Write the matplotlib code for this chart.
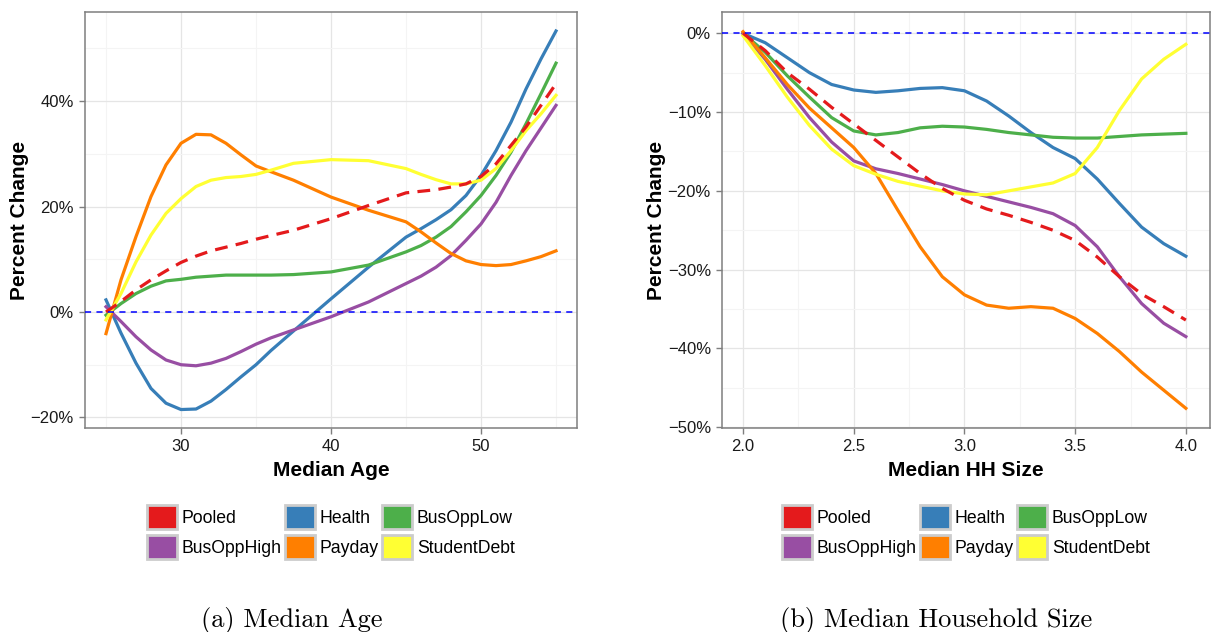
import matplotlib.pyplot as plt
from matplotlib.patches import Patch
from matplotlib.ticker import FuncFormatter, MultipleLocator

plt.rcParams['font.family'] = ['Liberation Sans', 'DejaVu Sans']

names = ['Pooled', 'Health', 'BusOppLow', 'BusOppHigh', 'Payday', 'StudentDebt']
colors = ['#E41A1C', '#377EB8', '#4DAF4A', '#984EA3', '#FF7F00', '#FFFF33']

# panel (a): median age
age = [25, 26, 27, 28, 29, 30, 31, 32, 33, 34, 35, 36, 37.5, 40, 42.5, 45, 46, 47, 48, 49, 50, 51, 52, 53, 54, 55]
age_pooled = [0.0, 2.0, 4.2, 6.1, 7.8, 9.4, 10.6, 11.6, 12.3, 13.0, 13.8, 14.5, 15.5, 17.7, 20.2, 22.6, 22.9, 23.2, 23.7, 24.3, 25.7, 28.1, 31.6, 35.1, 39.2, 43.3]
age_health = [2.3, -4.0, -9.7, -14.5, -17.3, -18.5, -18.4, -16.9, -14.7, -12.3, -10.0, -7.3, -3.6, 2.5, 8.5, 14.2, 15.8, 17.5, 19.4, 22.1, 25.9, 30.6, 36.0, 42.3, 48.0, 53.3]
age_busopplow = [-0.6, 1.6, 3.5, 4.9, 5.9, 6.2, 6.6, 6.8, 7.0, 7.0, 7.0, 7.0, 7.1, 7.6, 8.9, 11.4, 12.6, 14.2, 16.2, 19.0, 22.1, 25.9, 30.3, 35.7, 41.4, 47.2]
age_busopphigh = [1.0, -1.8, -4.7, -7.2, -9.1, -10.0, -10.2, -9.7, -8.8, -7.5, -6.1, -4.9, -3.4, -0.9, 1.9, 5.4, 6.8, 8.5, 10.7, 13.6, 16.7, 20.8, 25.9, 30.6, 34.9, 39.2]
age_payday = [-4.1, 6.1, 14.3, 21.9, 27.9, 32.0, 33.7, 33.6, 32.0, 29.8, 27.7, 26.6, 25.0, 21.8, 19.3, 17.1, 15.2, 13.1, 11.1, 9.7, 9.0, 8.8, 9.0, 9.7, 10.5, 11.6]
age_studentdebt = [-1.5, 3.5, 9.5, 14.6, 18.7, 21.5, 23.8, 25.0, 25.5, 25.7, 26.1, 26.9, 28.2, 28.9, 28.7, 27.2, 26.1, 25.1, 24.3, 24.3, 25.0, 27.2, 30.6, 34.4, 37.6, 41.1]

# panel (b): median household size
hh = [2.0, 2.1, 2.2, 2.3, 2.4, 2.5, 2.6, 2.7, 2.8, 2.9, 3.0, 3.1, 3.2, 3.3, 3.4, 3.5, 3.6, 3.7, 3.8, 3.9, 4.0]
hh_pooled = [0.0, -2.2, -5.0, -7.1, -9.4, -11.5, -13.6, -15.7, -17.8, -19.7, -21.2, -22.3, -23.1, -24.0, -25.0, -26.3, -28.4, -30.9, -33.1, -34.7, -36.4]
hh_health = [0.0, -1.2, -3.1, -5.0, -6.5, -7.2, -7.5, -7.3, -7.0, -6.9, -7.3, -8.6, -10.5, -12.6, -14.5, -15.9, -18.5, -21.6, -24.6, -26.7, -28.3]
hh_busopplow = [0.0, -2.4, -5.4, -8.1, -10.7, -12.4, -12.9, -12.6, -12.0, -11.8, -11.9, -12.2, -12.6, -12.9, -13.2, -13.3, -13.3, -13.1, -12.9, -12.8, -12.7]
hh_busopphigh = [0.0, -3.3, -7.1, -10.7, -13.8, -16.2, -17.2, -17.8, -18.5, -19.2, -20.0, -20.7, -21.4, -22.1, -22.9, -24.4, -27.1, -30.9, -34.3, -36.8, -38.5]
hh_payday = [0.2, -3.1, -6.5, -9.5, -12.0, -14.5, -17.8, -22.5, -27.1, -30.9, -33.2, -34.5, -34.9, -34.7, -34.9, -36.2, -38.1, -40.4, -43.0, -45.3, -47.6]
hh_studentdebt = [-0.3, -4.1, -8.1, -11.7, -14.7, -16.8, -17.9, -18.8, -19.4, -20.0, -20.4, -20.5, -20.0, -19.5, -19.0, -17.8, -14.5, -9.8, -5.8, -3.3, -1.4]

age_series = [age_pooled, age_health, age_busopplow, age_busopphigh, age_payday, age_studentdebt]
hh_series = [hh_pooled, hh_health, hh_busopplow, hh_busopphigh, hh_payday, hh_studentdebt]

fig = plt.figure(figsize=(12.11, 6.32), dpi=100)
ax1 = fig.add_axes([85 / 1211, 1 - 428 / 632, (577 - 85) / 1211, (428 - 12) / 632])
ax2 = fig.add_axes([722 / 1211, 1 - 428 / 632, (1210 - 722) / 1211, (428 - 12) / 632])

pct = FuncFormatter(lambda v, p: ('\u2212' if v < 0 else '') + f'{abs(v):.0f}%')


def draw(ax, x, ys, xlabel):
    # solid series first, pooled dashed on top
    for y, c in zip(ys[1:], colors[1:]):
        ax.plot(x, y, color=c, lw=2.3, solid_joinstyle='round', zorder=3)
    ax.plot(x, ys[0], color=colors[0], lw=2.3, dashes=(4, 2.6), zorder=4)
    ax.axhline(0, color='#0000FF', lw=1.1, dashes=(4, 3.5), zorder=5)
    ax.grid(True, which='major', color='#e5e5e5', lw=0.9, zorder=0)
    ax.grid(True, which='minor', color='#f4f4f4', lw=0.8, zorder=0)
    ax.set_axisbelow(True)
    for s in ax.spines.values():
        s.set_color('#7f7f7f')
        s.set_linewidth(1.1)
    ax.tick_params(which='major', length=4, width=1, color='#7f7f7f', labelsize=12,
                   labelcolor='#1a1a1a', pad=4)
    ax.tick_params(which='minor', length=0)
    ax.yaxis.set_major_formatter(pct)
    ax.set_xlabel(xlabel, fontsize=15, fontweight='bold', labelpad=5)
    ax.set_ylabel('Percent Change', fontsize=15, fontweight='bold', labelpad=1)


draw(ax1, age, age_series, 'Median Age')
ax1.set_xlim(23.6, 56.4)
ax1.set_ylim(-22.0, 56.9)
ax1.xaxis.set_major_locator(MultipleLocator(10))
ax1.xaxis.set_minor_locator(MultipleLocator(5))
ax1.yaxis.set_major_locator(MultipleLocator(20))
ax1.yaxis.set_minor_locator(MultipleLocator(10))

draw(ax2, hh, hh_series, 'Median HH Size')
ax2.set_xlim(1.905, 4.109)
ax2.set_ylim(-50.1, 2.7)
ax2.xaxis.set_major_locator(MultipleLocator(0.5))
ax2.xaxis.set_minor_locator(MultipleLocator(0.25))
ax2.xaxis.set_major_formatter(FuncFormatter(lambda v, p: f'{v:.1f}'))
ax2.yaxis.set_major_locator(MultipleLocator(10))
ax2.yaxis.set_minor_locator(MultipleLocator(5))

# legends, row-wise order like ggplot
order = [0, 3, 1, 4, 2, 5]
for ax in (ax1, ax2):
    handles = [Patch(facecolor=colors[i], edgecolor='#cccccc', linewidth=2, label=names[i]) for i in order]
    pos = ax.get_position()
    fig.legend(handles=handles, loc='center', ncol=3, frameon=False, fontsize=12.7,
               bbox_to_anchor=((pos.x0 + pos.x1) / 2, 1 - 532 / 632),
               handlelength=1.7, handleheight=1.7, handletextpad=0.25,
               columnspacing=0.2, labelspacing=0.35, borderaxespad=0)

fig.text(292 / 1211, 1 - 620 / 632, '(a) Median Age', family='cmr10', fontsize=19,
         ha='center', va='center')
fig.text(936 / 1211, 1 - 620 / 632, '(b) Median Household Size', family='cmr10', fontsize=19,
         ha='center', va='center')

fig.savefig('out.png', dpi=100, facecolor='white')
